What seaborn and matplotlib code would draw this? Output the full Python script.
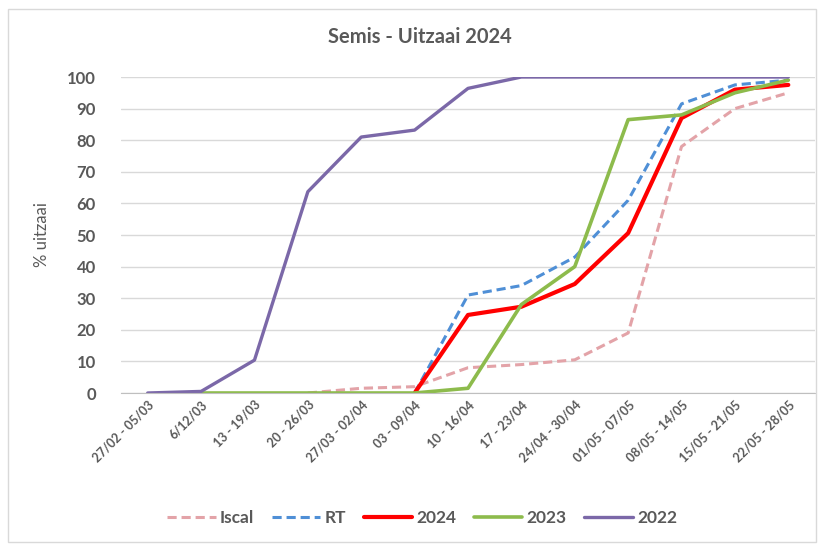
import numpy as np
import pandas as pd
import seaborn as sns
from matplotlib import pyplot as plt
from matplotlib.patches import Rectangle

weeks = ['27/02 - 05/03', '6/12/03', '13 - 19/03', '20 - 26/03', '27/03 - 02/04',
         '03 - 09/04', '10 - 16/04', '17 - 23/04', '24/04 - 30/04', '01/05 - 07/05',
         '08/05 - 14/05', '15/05 - 21/05', '22/05 - 28/05']

nan = np.nan
iscal = [nan, nan, nan, 0, 1.5, 2, 8, 9, 10.5, 19, 78, 90, 95]
rt = [nan, nan, nan, nan, nan, 0, 31, 34, 43, 61, 91.5, 97.5, 99]
y2024 = [nan, nan, nan, nan, nan, 0, 24.7, 27.3, 34.5, 50.6, 87, 96, 97.5]
y2023 = [nan, 0, 0, 0, 0, 0, 1.5, 28, 40, 86.5, 88, 95, 99]
y2022 = [0, 0.5, 10.4, 63.7, 81, 83.2, 96.4, 100, 100, 100, 100, 100, 100]

series = ['Iscal', 'RT', '2024', '2023', '2022']
colors = ['#E3A3A8', '#4F8FD6', '#FF0000', '#8DBB4C', '#7B68A8']
widths = [2.2, 2.2, 3.0, 2.6, 2.4]
dashed = [True, True, False, False, False]

rows = []
for name, vals in zip(series, [iscal, rt, y2024, y2023, y2022]):
    for i, v in enumerate(vals):
        rows.append({'x': i, 'pct': v, 'serie': name})
df = pd.DataFrame(rows).dropna()

sns.set_style('white')
plt.rcParams['font.family'] = ['Lato', 'DejaVu Sans']
grey = '#595959'

fig = plt.figure(figsize=(8.24, 5.45), dpi=100)
ax = fig.add_axes([121 / 824, 1 - 393 / 545, (815 - 121) / 824, (393 - 77) / 545])

for name, c, lw, d in zip(series, colors, widths, dashed):
    sns.lineplot(data=df[df['serie'] == name], x='x', y='pct', color=c, linewidth=lw,
                 linestyle=(0, (3, 1.6)) if d else '-', label=name, ax=ax)

ax.set_xlim(-0.5, 12.5)
ax.set_ylim(0, 100)
ax.set_yticks(range(0, 101, 10))
ax.set_xticks(range(len(weeks)))
ax.set_xticklabels(weeks, rotation=45, ha='right', rotation_mode='anchor',
                   fontsize=9, color=grey, fontweight='bold')
ax.tick_params(axis='y', labelsize=12, labelcolor=grey, length=0, pad=18)
for t in ax.get_yticklabels():
    t.set_fontweight('bold')
ax.tick_params(axis='x', length=0, pad=4)
ax.grid(axis='y', color='#D9D9D9', linewidth=1)
ax.set_axisbelow(True)
for s in ['top', 'right', 'left']:
    ax.spines[s].set_visible(False)
ax.spines['bottom'].set_color('#BFBFBF')
ax.set_xlabel('')
ax.set_ylabel('% uitzaai', fontsize=12, color=grey, labelpad=12)

ax.legend(loc='center', bbox_to_anchor=(0.434, -0.396), ncol=5, frameon=False,
          handlelength=2.8, columnspacing=1.0, handletextpad=0.25,
          labelcolor=grey, prop={'weight': 'bold', 'size': 12.5})

fig.suptitle('Semis - Uitzaai 2024', x=0.51, y=1 - 37 / 545, va='center',
             fontsize=14.5, fontweight='bold', color=grey)

fig.patches.append(Rectangle((8 / 824, 0.005), 1 - 16 / 824, 1 - 12 / 545,
                             transform=fig.transFigure, fill=False,
                             edgecolor='#D9D9D9', linewidth=1))

fig.savefig('out.png', dpi=100)
